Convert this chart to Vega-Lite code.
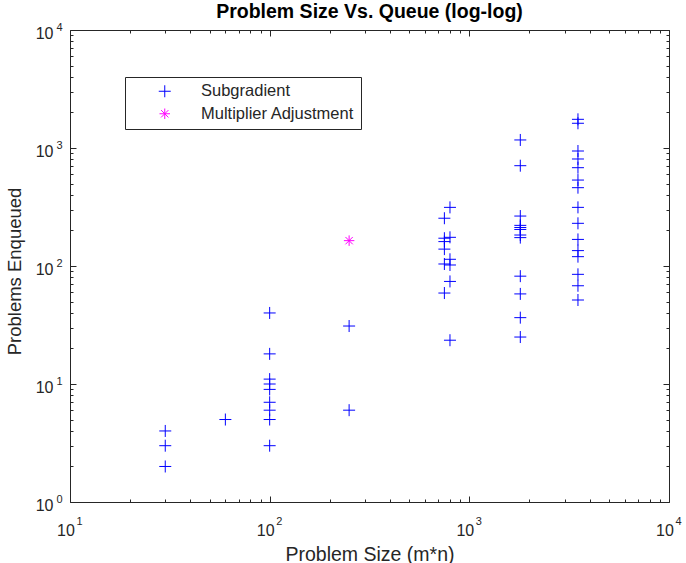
{
  "$schema": "https://vega.github.io/schema/vega-lite/v6.json",
  "width": 599,
  "height": 472,
  "autosize": {"type": "none"},
  "padding": {"left": 70, "top": 30, "right": 17, "bottom": 61},
  "background": "white",
  "title": {"text": "Problem Size Vs. Queue (log-log)", "font": "Liberation Sans", "fontSize": 19.5, "fontWeight": "bold", "color": "#000000", "anchor": "middle", "offset": 7, "dy": 8},
  "config": {
    "view": {"stroke": "#262626", "strokeWidth": 1},
    "axis": {"labelFont": "Liberation Sans", "titleFont": "Liberation Sans", "labelColor": "#262626", "titleColor": "#262626", "tickColor": "#262626", "titleFontWeight": "normal", "grid": false, "domain": false, "labelFlush": false, "labelOverlap": false}
  },
  "data": {"values": [
    {"mn": 30, "queued": 4, "method": "Subgradient"},
    {"mn": 30, "queued": 3, "method": "Subgradient"},
    {"mn": 30, "queued": 2, "method": "Subgradient"},
    {"mn": 60, "queued": 5, "method": "Subgradient"},
    {"mn": 100, "queued": 40, "method": "Subgradient"},
    {"mn": 100, "queued": 18, "method": "Subgradient"},
    {"mn": 100, "queued": 11, "method": "Subgradient"},
    {"mn": 100, "queued": 10, "method": "Subgradient"},
    {"mn": 100, "queued": 9, "method": "Subgradient"},
    {"mn": 100, "queued": 7, "method": "Subgradient"},
    {"mn": 100, "queued": 6, "method": "Subgradient"},
    {"mn": 100, "queued": 5, "method": "Subgradient"},
    {"mn": 100, "queued": 3, "method": "Subgradient"},
    {"mn": 250, "queued": 31, "method": "Subgradient"},
    {"mn": 250, "queued": 6, "method": "Subgradient"},
    {"mn": 750, "queued": 254, "method": "Subgradient"},
    {"mn": 750, "queued": 172, "method": "Subgradient"},
    {"mn": 750, "queued": 161, "method": "Subgradient"},
    {"mn": 750, "queued": 139, "method": "Subgradient"},
    {"mn": 750, "queued": 104, "method": "Subgradient"},
    {"mn": 750, "queued": 59, "method": "Subgradient"},
    {"mn": 800, "queued": 314, "method": "Subgradient"},
    {"mn": 800, "queued": 175, "method": "Subgradient"},
    {"mn": 800, "queued": 114, "method": "Subgradient"},
    {"mn": 800, "queued": 102, "method": "Subgradient"},
    {"mn": 800, "queued": 74, "method": "Subgradient"},
    {"mn": 800, "queued": 23.5, "method": "Subgradient"},
    {"mn": 1800, "queued": 1170, "method": "Subgradient"},
    {"mn": 1800, "queued": 708, "method": "Subgradient"},
    {"mn": 1800, "queued": 265, "method": "Subgradient"},
    {"mn": 1800, "queued": 221, "method": "Subgradient"},
    {"mn": 1800, "queued": 212, "method": "Subgradient"},
    {"mn": 1800, "queued": 204, "method": "Subgradient"},
    {"mn": 1800, "queued": 183, "method": "Subgradient"},
    {"mn": 1800, "queued": 174, "method": "Subgradient"},
    {"mn": 1800, "queued": 82, "method": "Subgradient"},
    {"mn": 1800, "queued": 58, "method": "Subgradient"},
    {"mn": 1800, "queued": 36.5, "method": "Subgradient"},
    {"mn": 1800, "queued": 25, "method": "Subgradient"},
    {"mn": 3500, "queued": 1750, "method": "Subgradient"},
    {"mn": 3500, "queued": 1620, "method": "Subgradient"},
    {"mn": 3500, "queued": 943, "method": "Subgradient"},
    {"mn": 3500, "queued": 807, "method": "Subgradient"},
    {"mn": 3500, "queued": 681, "method": "Subgradient"},
    {"mn": 3500, "queued": 535, "method": "Subgradient"},
    {"mn": 3500, "queued": 461, "method": "Subgradient"},
    {"mn": 3500, "queued": 314, "method": "Subgradient"},
    {"mn": 3500, "queued": 230, "method": "Subgradient"},
    {"mn": 3500, "queued": 168, "method": "Subgradient"},
    {"mn": 3500, "queued": 135, "method": "Subgradient"},
    {"mn": 3500, "queued": 120, "method": "Subgradient"},
    {"mn": 3500, "queued": 85, "method": "Subgradient"},
    {"mn": 3500, "queued": 68, "method": "Subgradient"},
    {"mn": 3500, "queued": 51.5, "method": "Subgradient"},
    {"mn": 250, "queued": 164, "method": "Multiplier Adjustment"}
  ]},
  "resolve": {"axis": {"x": "independent", "y": "independent"}},
  "layer": [
    {
      "mark": {"type": "point", "filled": false, "strokeWidth": 1, "opacity": 1},
      "encoding": {
        "x": {"field": "mn", "type": "quantitative",
          "scale": {"type": "log", "domain": [10, 10000], "nice": false},
          "axis": {"orient": "bottom", "title": "Problem Size (m*n)", "titleFontSize": 19.5, "titlePadding": 4,
            "values": [10,20,30,40,50,60,70,80,90,100,200,300,400,500,600,700,800,900,1000,2000,3000,4000,5000,6000,7000,8000,9000,10000],
            "labelExpr": "datum.value == 10 || datum.value == 100 || datum.value == 1000 || datum.value == 10000 ? '10' : ''",
            "labelFontSize": 16, "labelPadding": 26, "labelOffset": -4.5,
            "tickSize": {"condition": {"test": "datum.value == 10 || datum.value == 100 || datum.value == 1000 || datum.value == 10000", "value": -6}, "value": -3}}},
        "y": {"field": "queued", "type": "quantitative",
          "scale": {"type": "log", "domain": [1, 10000], "nice": false},
          "axis": {"orient": "left", "title": "Problems Enqueued", "titleFontSize": 18.5, "titlePadding": 11, "titleY": 241,
            "values": [1,2,3,4,5,6,7,8,9,10,20,30,40,50,60,70,80,90,100,200,300,400,500,600,700,800,900,1000,2000,3000,4000,5000,6000,7000,8000,9000,10000],
            "labelExpr": "datum.value == 1 || datum.value == 10 || datum.value == 100 || datum.value == 1000 || datum.value == 10000 ? '10' : ''",
            "labelFontSize": 16, "labelPadding": 23, "labelOffset": 3.5,
            "tickSize": {"condition": {"test": "datum.value == 1 || datum.value == 10 || datum.value == 100 || datum.value == 1000 || datum.value == 10000", "value": -6}, "value": -3}}},
        "color": {"field": "method", "type": "nominal",
          "scale": {"domain": ["Subgradient", "Multiplier Adjustment"], "range": ["#0000ff", "#ff00ff"]},
          "legend": {"orient": "none", "legendX": 55, "legendY": 47, "title": null,
            "strokeColor": "#262626", "fillColor": "white", "padding": 6,
            "labelFont": "Liberation Sans", "labelFontSize": 16.5, "labelColor": "#262626",
            "symbolOffset": 25.5, "labelOffset": 28, "rowPadding": 5.5, "symbolStrokeWidth": 1, "symbolSize": 144}},
        "shape": {"field": "method", "type": "nominal",
          "scale": {"domain": ["Subgradient", "Multiplier Adjustment"], "range": ["M-1,0H1M0,-1V1", "M-1,0H1M0,-1V1M-0.7,-0.7L0.7,0.7M-0.7,0.7L0.7,-0.7"]}},
        "size": {"field": "method", "type": "nominal", "legend": null,
          "scale": {"domain": ["Subgradient", "Multiplier Adjustment"], "range": [144, 110]}}
      }
    },
    {
      "mark": {"type": "point", "opacity": 0},
      "encoding": {
        "x": {"field": "mn", "type": "quantitative",
          "scale": {"type": "log", "domain": [10, 10000], "nice": false},
          "axis": {"orient": "top", "title": null, "labels": false,
            "values": [10,20,30,40,50,60,70,80,90,100,200,300,400,500,600,700,800,900,1000,2000,3000,4000,5000,6000,7000,8000,9000,10000],
            "tickSize": {"condition": {"test": "datum.value == 10 || datum.value == 100 || datum.value == 1000 || datum.value == 10000", "value": -6}, "value": -3}}},
        "y": {"field": "queued", "type": "quantitative",
          "scale": {"type": "log", "domain": [1, 10000], "nice": false},
          "axis": {"orient": "right", "title": null, "labels": false,
            "values": [1,2,3,4,5,6,7,8,9,10,20,30,40,50,60,70,80,90,100,200,300,400,500,600,700,800,900,1000,2000,3000,4000,5000,6000,7000,8000,9000,10000],
            "tickSize": {"condition": {"test": "datum.value == 1 || datum.value == 10 || datum.value == 100 || datum.value == 1000 || datum.value == 10000", "value": -6}, "value": -3}}}
      }
    },
    {
      "mark": {"type": "point", "opacity": 0},
      "encoding": {
        "x": {"field": "mn", "type": "quantitative",
          "scale": {"type": "log", "domain": [10, 10000], "nice": false},
          "axis": {"orient": "bottom", "title": null, "ticks": false,
            "values": [10, 100, 1000, 10000],
            "labelExpr": "datum.value == 10 ? '1' : datum.value == 100 ? '2' : datum.value == 1000 ? '3' : '4'",
            "labelFontSize": 11, "labelAlign": "left", "labelOffset": 6, "labelPadding": 13}},
        "y": {"field": "queued", "type": "quantitative",
          "scale": {"type": "log", "domain": [1, 10000], "nice": false},
          "axis": {"orient": "left", "title": null, "ticks": false,
            "values": [1, 10, 100, 1000, 10000],
            "labelExpr": "datum.value == 1 ? '0' : datum.value == 10 ? '1' : datum.value == 100 ? '2' : datum.value == 1000 ? '3' : '4'",
            "labelFontSize": 11, "labelAlign": "right", "labelPadding": 8, "labelOffset": -2.5}}
      }
    }
  ]
}
